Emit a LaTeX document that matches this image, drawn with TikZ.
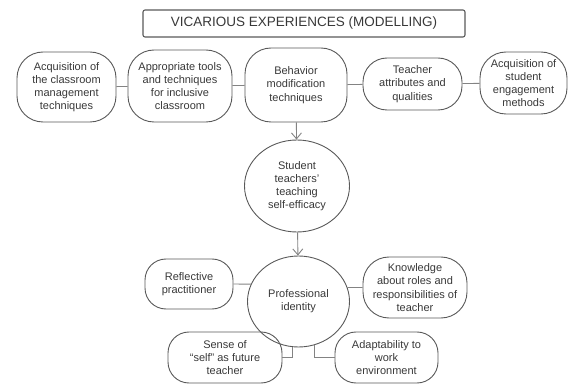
\documentclass[tikz,border=0pt]{standalone}
\usepackage{fontspec}
\setmainfont{Liberation Sans}
\usetikzlibrary{shapes.geometric}
\usetikzlibrary{arrows.meta}
\usetikzlibrary{positioning}
\definecolor{linegray}{gray}{0.35}
\definecolor{textgray}{gray}{0.22}
\tikzstyle{title_box}=[rectangle, rounded corners=2pt, draw=linegray, line width=1.1pt, text=textgray, font=\fontsize{13.5}{15}\selectfont]
\tikzstyle{topic_box}=[rectangle, rounded corners=21pt, draw=linegray, line width=0.9pt, align=center, inner sep=1pt, text=textgray, font=\fontsize{11}{13.2}\selectfont]
\tikzstyle{tall_box}=[topic_box, rounded corners=26pt]
\tikzstyle{topic_oval}=[ellipse, draw=linegray, line width=0.9pt, align=center, inner sep=1pt, text=textgray, font=\fontsize{11}{13.2}\selectfont]
\tikzstyle{link}=[draw=linegray!75, line width=0.9pt]
\tikzstyle{flow}=[link, -{Straight Barb[length=6pt,width=10pt]}]

\begin{document}
\begin{tikzpicture}[x=1pt, y=-1pt]
          \useasboundingbox (0,0) rectangle (571,385);
          \node[title_box, minimum width=322pt, minimum height=27pt] (vic) at (304,23.5){VICARIOUS EXPERIENCES (MODELLING)};
          \node[tall_box, minimum width=99pt, minimum height=70pt] (acq) at (66.5,87){Acquisition of\\the classroom\\management\\techniques};
          \node[tall_box, minimum width=104pt, minimum height=72pt] (tools) at (180,86){Appropriate tools\\and techniques\\for inclusive\\classroom};
          \node[tall_box, minimum width=102pt, minimum height=74pt] (behav) at (296,85){Behavior\\modification\\techniques};
          \node[topic_box, rounded corners=24pt, minimum width=99pt, minimum height=52pt] (teach) at (412.5,84){Teacher\\attributes and\\qualities};
          \node[tall_box, minimum width=87pt, minimum height=62pt] (engage) at (523.5,83){Acquisition of\\student\\engagement\\methods};
          \draw[link](acq) -- (tools);
          \draw[link](tools) -- (behav);
          \draw[link](behav) -- (teach);
          \draw[link](teach) -- (engage);
          \node[topic_oval, minimum width=105pt, minimum height=92pt] (eff) at (297,186){Student\\teachers'\\teaching\\self-efficacy};
          \draw[flow](behav) -- (eff);
          \node[topic_oval, minimum width=102pt, minimum height=91pt] (pid) at (298.5,301.5){Professional\\identity};
          \draw[flow](eff) -- (pid);
          \node[topic_box, minimum width=88pt, minimum height=50pt] (refl) at (189,284){Reflective\\practitioner};
          \node[tall_box, minimum width=104pt, minimum height=61pt] (know) at (415,287.5){Knowledge\\about roles and\\responsibilities of\\teacher};
          \node[topic_box, minimum width=114pt, minimum height=51pt] (self) at (225,357.5){Sense of\\“self” as future\\teacher};
          \node[topic_box, minimum width=103pt, minimum height=51pt] (adapt) at (386.5,357.5){Adaptability to\\work\\environment};
          \draw[link](refl.east) -- (pid.160);
          \draw[link](know.west) -- (pid.16);
          \draw[link](self.east) -| (pid.-98);
          \draw[link](adapt.west) -| (pid.-70);
        \end{tikzpicture}
\end{document}
